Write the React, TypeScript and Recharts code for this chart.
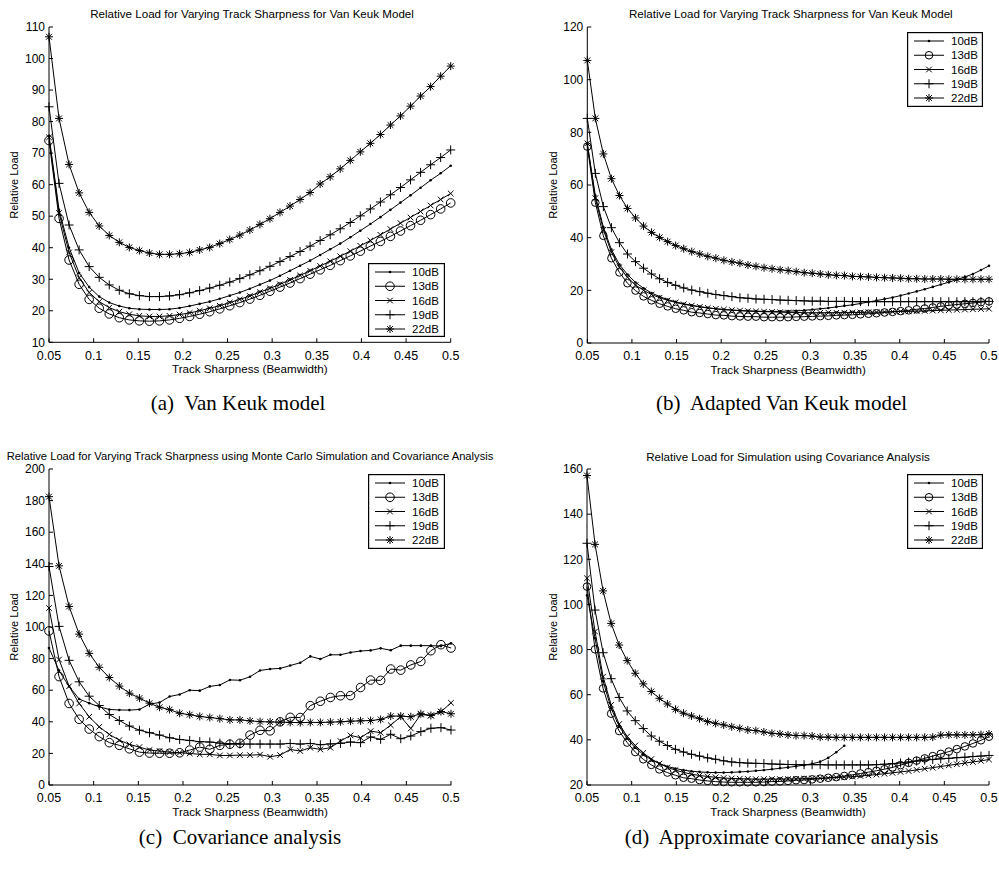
import React from "react";
import { LineChart, Line, XAxis, YAxis, Legend } from "recharts";

// beamwidth samples: 41 points for (a)/(c), 51 points for (b)/(d)
const sharpness41 = [
  0.05, 0.06125, 0.0725, 0.08375, 0.095, 0.10625, 0.1175, 0.12875, 0.14, 0.15125,
  0.1625, 0.17375, 0.185, 0.19625, 0.2075, 0.21875, 0.23, 0.24125, 0.2525, 0.26375,
  0.275, 0.28625, 0.2975, 0.30875, 0.32, 0.33125, 0.3425, 0.35375, 0.365, 0.37625,
  0.3875, 0.39875, 0.41, 0.42125, 0.4325, 0.44375, 0.455, 0.46625, 0.4775, 0.48875, 0.5,
];
const sharpness51 = [
  0.05, 0.059, 0.068, 0.077, 0.086, 0.095, 0.104, 0.113, 0.122, 0.131,
  0.14, 0.149, 0.158, 0.167, 0.176, 0.185, 0.194, 0.203, 0.212, 0.221,
  0.23, 0.239, 0.248, 0.257, 0.266, 0.275, 0.284, 0.293, 0.302, 0.311,
  0.32, 0.329, 0.338, 0.347, 0.356, 0.365, 0.374, 0.383, 0.392, 0.401,
  0.41, 0.419, 0.428, 0.437, 0.446, 0.455, 0.464, 0.473, 0.482, 0.491, 0.5,
];

const xTicks = [0.05, 0.1, 0.15, 0.2, 0.25, 0.3, 0.35, 0.4, 0.45, 0.5];
const seriesNames = ["10dB", "13dB", "16dB", "19dB", "22dB"];

// (a) Van Keuk model
const vanKeuk10 = [75.5, 52, 40, 32, 27.5, 24.5, 22.6, 21.5, 20.8, 20.5, 20.4, 20.4, 20.5, 20.9, 21.5, 22.2, 22.9, 23.8, 24.8, 25.8, 27.0, 28.3, 29.6, 31.1, 32.7, 34.3, 35.9, 37.7, 39.5, 41.3, 43.3, 45.4, 47.5, 49.7, 52.0, 54.3, 56.6, 59.0, 61.4, 63.6, 66.0];
const vanKeuk13 = [74, 49.3, 36.1, 28.4, 23.6, 20.8, 19.0, 17.8, 17.1, 16.8, 16.7, 16.8, 17.1, 17.6, 18.2, 18.9, 19.7, 20.6, 21.6, 22.6, 23.7, 24.9, 26.2, 27.5, 28.8, 30.2, 31.6, 33.0, 34.4, 35.9, 37.4, 38.9, 40.5, 42.0, 43.6, 45.3, 47.0, 48.7, 50.5, 52.3, 54.2];
const vanKeuk16 = [75, 51, 38.5, 30.5, 25.8, 22.9, 21.0, 19.7, 18.9, 18.4, 18.2, 18.2, 18.4, 18.8, 19.3, 20.0, 20.8, 21.6, 22.6, 23.6, 24.7, 25.9, 27.1, 28.4, 29.8, 31.2, 32.7, 34.2, 35.7, 37.3, 38.9, 40.6, 42.3, 44.1, 45.9, 47.8, 49.6, 51.5, 53.4, 55.3, 57.2];
const vanKeuk19 = [84.7, 60.4, 47.2, 39.3, 34.0, 30.6, 28.2, 26.5, 25.4, 24.8, 24.5, 24.5, 24.7, 25.1, 25.7, 26.4, 27.2, 28.1, 29.1, 30.2, 31.4, 32.7, 34.1, 35.6, 37.2, 38.8, 40.5, 42.3, 44.1, 46.0, 48.0, 50.1, 52.3, 54.5, 56.8, 59.1, 61.5, 63.9, 66.3, 68.6, 71.0];
const vanKeuk22 = [106.9, 81.0, 66.4, 57.4, 51.2, 46.9, 43.9, 41.7, 40.1, 39.1, 38.3, 37.9, 37.9, 38.1, 38.5, 39.3, 40.1, 41.3, 42.6, 44.0, 45.6, 47.4, 49.2, 51.2, 53.2, 55.3, 57.5, 60.2, 62.5, 65.0, 67.7, 70.4, 73.1, 75.9, 78.9, 81.8, 84.9, 88.1, 91.1, 94.4, 97.6];

// (b) Adapted Van Keuk model
const adapted10 = [75.5, 56, 44, 35.5, 29.8, 26, 23, 20.8, 19.0, 17.6, 16.5, 15.6, 14.9, 14.3, 13.8, 13.4, 13.0, 12.7, 12.5, 12.3, 12.2, 12.1, 12.0, 12.0, 12.0, 12.1, 12.2, 12.4, 12.7, 13.0, 13.3, 13.7, 14.1, 14.5, 15.0, 15.6, 16.1, 16.7, 17.3, 18.0, 18.8, 19.6, 20.4, 21.3, 22.2, 23.1, 24.1, 25.1, 26.2, 27.7, 29.3];
const adapted13 = [74.6, 53.3, 40.7, 32.2, 26.8, 22.7, 19.9, 17.7, 16.2, 14.9, 13.9, 13.0, 12.4, 11.7, 11.4, 11.0, 10.6, 10.5, 10.2, 10.1, 10.0, 10.0, 9.8, 9.8, 9.8, 9.8, 9.9, 10.0, 10.1, 10.2, 10.3, 10.5, 10.6, 10.7, 10.9, 11.1, 11.3, 11.6, 11.8, 12.1, 12.4, 12.8, 13.1, 13.5, 13.9, 14.3, 14.6, 14.9, 15.2, 15.5, 15.8];
const adapted16 = [75.8, 55, 43, 34.5, 28.8, 25, 22, 20, 18.4, 17.2, 16.2, 15.4, 14.7, 14.2, 13.7, 13.3, 13.0, 12.7, 12.5, 12.3, 12.1, 12.0, 11.9, 11.8, 11.7, 11.6, 11.6, 11.5, 11.5, 11.5, 11.5, 11.5, 11.5, 11.6, 11.6, 11.7, 11.7, 11.8, 11.9, 12.0, 12.0, 12.1, 12.2, 12.3, 12.4, 12.5, 12.6, 12.7, 12.8, 12.9, 13.0];
const adapted19 = [85.3, 64.4, 51.8, 43.8, 38.1, 33.8, 30.9, 28.4, 26.2, 24.4, 23.0, 21.9, 20.9, 20.1, 19.5, 18.9, 18.4, 18.0, 17.6, 17.2, 17.0, 16.7, 16.6, 16.5, 16.3, 16.2, 16.1, 16.0, 15.9, 15.9, 15.8, 15.8, 15.8, 15.7, 15.7, 15.7, 15.7, 15.7, 15.7, 15.7, 15.7, 15.7, 15.7, 15.7, 15.7, 15.7, 15.7, 15.7, 15.7, 15.8, 15.8];
const adapted22 = [107.3, 85.3, 71.8, 62.4, 56.0, 51.1, 47.5, 44.4, 42.0, 40.1, 38.5, 37.0, 35.8, 34.7, 33.8, 32.9, 32.2, 31.4, 30.8, 30.3, 29.6, 29.1, 28.6, 28.2, 27.8, 27.5, 27.1, 26.7, 26.5, 26.2, 25.9, 25.7, 25.6, 25.3, 25.2, 25.1, 24.9, 24.8, 24.7, 24.6, 24.4, 24.4, 24.3, 24.3, 24.3, 24.2, 24.2, 24.2, 24.2, 24.2, 24.2];

// (c) Covariance analysis (Monte Carlo)
const covar10 = [86.7, 72.4, 62.4, 54.4, 51.8, 49.5, 47.8, 47.5, 47.4, 47.8, 51.2, 52.2, 56.0, 57.3, 60.0, 59.7, 62.4, 63.3, 66.5, 66.3, 68.5, 72.5, 73.4, 73.8, 75.6, 77.4, 81.4, 79.7, 82.4, 82.4, 83.9, 84.8, 85.2, 86.5, 85.3, 88.2, 88.2, 88.2, 88.2, 87.9, 89.7];
const covar13 = [97.5, 68.6, 51.6, 41.6, 35.4, 30.6, 26.8, 25.1, 22.9, 20.8, 20.2, 20.1, 20.1, 20.4, 22.1, 24.0, 22.6, 25.1, 25.8, 26.4, 31.6, 34.6, 34.3, 40.0, 42.8, 42.7, 50.2, 53.0, 55.4, 56.5, 56.6, 61.7, 66.4, 66.2, 73.4, 72.7, 76.0, 78.2, 85.0, 88.8, 86.7];
const covar16 = [112, 79.4, 62.5, 51.6, 43.2, 36.8, 32.0, 28.4, 25.7, 24.0, 22.1, 21.5, 20.8, 20.4, 20.0, 19.4, 19.4, 18.7, 18.7, 18.9, 18.9, 19.2, 17.9, 18.9, 22.5, 21.5, 23.6, 22.5, 23.6, 27.8, 31.4, 29.9, 34.1, 33.1, 37.9, 43.2, 35.8, 44.6, 44.0, 46.3, 52.0];
const covar19 = [138.3, 100.4, 78.9, 65.3, 56.2, 50.3, 44.6, 40.8, 37.3, 34.7, 33.1, 31.6, 29.9, 28.8, 28.2, 27.4, 27.2, 26.5, 26.1, 25.9, 25.9, 25.9, 25.9, 25.9, 26.3, 25.9, 26.3, 25.5, 26.0, 26.3, 27.2, 26.8, 30.4, 28.9, 32.1, 29.3, 31.0, 33.8, 35.9, 36.3, 34.8];
const covar22 = [182.5, 138.7, 113.0, 95.5, 83.3, 74.5, 68.0, 62.6, 58.1, 55.0, 51.8, 49.2, 47.7, 45.4, 44.5, 43.4, 42.7, 42.0, 41.2, 41.2, 40.6, 40.1, 39.9, 39.8, 39.6, 39.5, 39.6, 39.6, 39.8, 40.0, 40.4, 40.6, 40.8, 41.5, 43.6, 43.6, 43.2, 45.1, 44.0, 46.5, 45.1];

// (d) Approximate covariance analysis (10dB run stops early)
const approx10 = [104, 85, 66, 54, 46, 40.5, 36.5, 33.5, 31.2, 29.5, 28.2, 27.3, 26.6, 26.1, 25.8, 25.6, 25.5, 25.5, 25.6, 25.8, 26.0, 26.3, 26.6, 27.0, 27.4, 27.8, 28.3, 28.8, 29.4, 30.3, 32.0, 34.5, 37.4];
const approx13 = [107.9, 80.1, 62.8, 51.6, 43.9, 38.8, 34.6, 31.4, 28.9, 26.9, 25.5, 24.3, 23.2, 22.8, 22.2, 21.8, 21.5, 21.3, 21.2, 21.2, 21.2, 21.2, 21.3, 21.5, 21.6, 21.8, 22.1, 22.2, 22.5, 22.8, 23.2, 23.5, 24.0, 24.5, 25.1, 25.7, 26.3, 27.0, 27.8, 28.8, 29.8, 30.8, 31.8, 32.8, 33.8, 34.8, 35.9, 37.1, 38.4, 39.8, 41.4];
const approx16 = [111.6, 88, 68, 55.5, 47, 41.5, 37.5, 34.2, 31.5, 29.5, 27.8, 26.6, 25.6, 24.8, 24.2, 23.8, 23.4, 23.1, 22.9, 22.8, 22.7, 22.6, 22.6, 22.6, 22.6, 22.6, 22.7, 22.8, 22.9, 23.0, 23.1, 23.3, 23.5, 23.7, 24.0, 24.3, 24.6, 25.0, 25.4, 25.8, 26.2, 26.7, 27.2, 27.7, 28.2, 28.7, 29.2, 29.7, 30.2, 30.7, 31.3];
const approx19 = [127.1, 97.5, 78.6, 67.1, 58.8, 52.8, 48.5, 45.0, 41.7, 39.4, 37.5, 35.8, 34.6, 33.6, 32.8, 32.0, 31.4, 30.7, 30.2, 29.9, 29.7, 29.6, 29.5, 29.3, 29.2, 29.1, 29.0, 29.0, 29.0, 29.0, 28.9, 28.9, 28.9, 28.9, 28.9, 28.9, 29.0, 29.2, 29.5, 29.8, 30.2, 30.6, 31.0, 31.3, 31.6, 31.8, 32.1, 32.3, 32.6, 32.8, 33.1];
const approx22 = [157.1, 126.6, 106.0, 91.6, 82.0, 75.1, 69.5, 64.8, 61.4, 58.4, 55.9, 53.5, 51.8, 50.6, 49.4, 48.1, 47.3, 46.6, 45.8, 45.1, 44.4, 44.1, 43.5, 42.9, 42.6, 42.2, 41.9, 41.9, 41.7, 41.2, 41.2, 41.1, 41.1, 41.1, 41.1, 41.1, 41.1, 41.1, 41.1, 41.1, 41.1, 41.1, 41.1, 41.2, 42.1, 42.2, 42.2, 42.2, 42.2, 42.3, 42.6];

const ticksA = [10, 20, 30, 40, 50, 60, 70, 80, 90, 100, 110];
const ticksB = [0, 20, 40, 60, 80, 100, 120];
const ticksC = [0, 20, 40, 60, 80, 100, 120, 140, 160, 180, 200];
const ticksD = [20, 40, 60, 80, 100, 120, 140, 160];

const SANS = '"Liberation Sans", Arial, Helvetica, sans-serif';
const SERIF = '"Liberation Serif", "Times New Roman", serif';
const YW = 40;
const XH = 30;

type Shape = "dot" | "circle" | "cross" | "plus" | "star";
const shapes: Shape[] = ["dot", "circle", "cross", "plus", "star"];

function marker(shape: Shape, cx: number, cy: number, big: boolean) {
  const k = "#000";
  if (shape === "dot") return <circle cx={cx} cy={cy} r={1.3} fill={k} />;
  if (shape === "circle")
    return <circle cx={cx} cy={cy} r={big ? 4.3 : 3.8} fill="none" stroke={k} strokeWidth={1} />;
  if (shape === "cross") {
    const d = 2.8;
    return <path d={`M${cx - d},${cy - d}L${cx + d},${cy + d}M${cx - d},${cy + d}L${cx + d},${cy - d}`} stroke={k} strokeWidth={1} fill="none" />;
  }
  if (shape === "plus") {
    const d = 4.5;
    return <path d={`M${cx - d},${cy}L${cx + d},${cy}M${cx},${cy - d}L${cx},${cy + d}`} stroke={k} strokeWidth={1} fill="none" />;
  }
  const d = 4;
  const e = 2.9;
  return (
    <path
      d={`M${cx - d},${cy}L${cx + d},${cy}M${cx},${cy - d}L${cx},${cy + d}M${cx - e},${cy - e}L${cx + e},${cy + e}M${cx - e},${cy + e}L${cx + e},${cy - e}`}
      stroke={k}
      strokeWidth={1}
      fill="none"
    />
  );
}

const dotFor = (shape: Shape, big: boolean) => (p: any) => {
  const key = `${shape}-${p.index}`;
  if (p.cx == null || p.cy == null || p.value == null) return <g key={key} />;
  return <g key={key}>{marker(shape, p.cx, p.cy, big)}</g>;
};

type Box = { x: number; y: number; w: number; h: number };

const legendBox = (box: Box, big: boolean) => () => (
  <svg width={box.w} height={box.h} style={{ display: "block" }}>
    <rect x={0.6} y={0.6} width={box.w - 1.2} height={box.h - 1.2} fill="#fff" stroke="#000" strokeWidth={1.2} />
    {seriesNames.map((name, i) => {
      const y = 9 + i * 14.25;
      return (
        <g key={name}>
          <line x1={7} x2={37} y1={y} y2={y} stroke="#000" strokeWidth={1} />
          {marker(shapes[i], 22, y, big)}
          <text x={44} y={y + 4} fontSize={11.5} fontFamily={SANS} fill="#000">
            {name}
          </text>
        </g>
      );
    })}
  </svg>
);

type PanelSpec = {
  left: number;
  top: number;
  w: number;
  h: number;
  plot: { l: number; r: number; t: number; b: number };
  xs: number[];
  series: number[][];
  yDomain: [number, number];
  yTicks: number[];
  title: string;
  titleSize: number;
  titleX: number;
  titleY: number;
  caption: string;
  captionX: number;
  captionY: number;
  xLabelY: number;
  yLabelX: number;
  legend: Box;
  big: boolean;
};

function Panel(p: PanelSpec) {
  const rows = p.xs.map((x, i) => {
    const r: Record<string, number | null> = { x };
    p.series.forEach((s, k) => {
      r["s" + k] = i < s.length ? s[i] : null;
    });
    return r;
  });
  const margin = {
    left: p.plot.l - YW,
    right: p.w - p.plot.r,
    top: p.plot.t,
    bottom: p.h - p.plot.b - XH,
  };
  const plotCx = (p.plot.l + p.plot.r) / 2;
  const plotCy = (p.plot.t + p.plot.b) / 2;
  const xTick = { fontSize: 12.5, fill: "#000", fontFamily: SANS };
  const yTick = { fontSize: 12, fill: "#000", fontFamily: SANS };

  return (
    <div style={{ position: "absolute", left: p.left, top: p.top, width: p.w, height: p.h, overflow: "hidden" }}>
      <LineChart width={p.w} height={p.h} data={rows} margin={margin}>
        <XAxis
          type="number"
          dataKey="x"
          domain={[0.05, 0.5]}
          ticks={xTicks}
          interval={0}
          height={XH}
          tickSize={-4}
          tickMargin={12.5}
          tick={xTick}
          tickFormatter={(v: number) => String(v)}
          axisLine={{ stroke: "#000" }}
          tickLine={{ stroke: "#000" }}
        />
        <YAxis
          type="number"
          domain={p.yDomain}
          ticks={p.yTicks}
          interval={0}
          width={YW}
          tickSize={-4}
          tickMargin={8}
          tick={yTick}
          axisLine={{ stroke: "#000" }}
          tickLine={{ stroke: "#000" }}
        />
        <Legend
          layout="vertical"
          align="center"
          verticalAlign="middle"
          content={legendBox(p.legend, p.big)}
          wrapperStyle={{ left: p.legend.x, top: p.legend.y, width: p.legend.w, height: p.legend.h }}
        />
        {shapes.map((s, k) => (
          <Line
            key={s}
            type="linear"
            dataKey={"s" + k}
            name={seriesNames[k]}
            stroke="#000"
            strokeWidth={1}
            dot={dotFor(s, p.big)}
            activeDot={false}
            connectNulls={false}
            isAnimationActive={false}
          />
        ))}
      </LineChart>
      <div
        style={{
          position: "absolute",
          left: p.titleX - 400,
          width: 800,
          top: p.titleY - 7,
          height: 14,
          display: "flex",
          justifyContent: "center",
          alignItems: "center",
          whiteSpace: "nowrap",
          fontFamily: SANS,
          fontSize: p.titleSize,
        }}
      >
        {p.title}
      </div>
      <div
        style={{
          position: "absolute",
          left: plotCx - 150,
          width: 300,
          top: p.xLabelY - 6,
          height: 12,
          lineHeight: "12px",
          textAlign: "center",
          fontFamily: SANS,
          fontSize: 11.6,
        }}
      >
        Track Sharpness (Beamwidth)
      </div>
      <div
        style={{
          position: "absolute",
          left: p.yLabelX - 60,
          width: 120,
          top: plotCy - 7,
          height: 14,
          lineHeight: "14px",
          textAlign: "center",
          transform: "rotate(-90deg)",
          fontFamily: SANS,
          fontSize: 11,
        }}
      >
        Relative Load
      </div>
      <div
        style={{
          position: "absolute",
          left: p.captionX - 200,
          width: 400,
          top: p.captionY - 13,
          height: 26,
          lineHeight: "26px",
          textAlign: "center",
          whiteSpace: "pre",
          fontFamily: SERIF,
          fontSize: 21,
        }}
      >
        {p.caption}
      </div>
    </div>
  );
}

const TITLE_VK = "Relative Load for Varying Track Sharpness for Van Keuk Model";

const panels: PanelSpec[] = [
  {
    left: 0, top: 0, w: 500, h: 435,
    plot: { l: 49, r: 450.7, t: 27, b: 342.3 },
    xs: sharpness41,
    series: [vanKeuk10, vanKeuk13, vanKeuk16, vanKeuk19, vanKeuk22],
    yDomain: [10, 110], yTicks: ticksA,
    title: TITLE_VK, titleSize: 11.6, titleX: 252, titleY: 13,
    caption: "(a)  Van Keuk model", captionX: 238, captionY: 403,
    xLabelY: 369, yLabelX: 14,
    legend: { x: 368, y: 263, w: 77, h: 74 }, big: true,
  },
  {
    left: 500, top: 0, w: 499, h: 435,
    plot: { l: 87.3, r: 489, t: 27, b: 343 },
    xs: sharpness51,
    series: [adapted10, adapted13, adapted16, adapted19, adapted22],
    yDomain: [0, 120], yTicks: ticksB,
    title: TITLE_VK, titleSize: 11.6, titleX: 290.8, titleY: 13,
    caption: "(b)  Adapted Van Keuk model", captionX: 281.6, captionY: 403,
    xLabelY: 369.5, yLabelX: 53,
    legend: { x: 407, y: 32, w: 76, h: 75 }, big: false,
  },
  {
    left: 0, top: 435, w: 500, h: 435,
    plot: { l: 49, r: 451, t: 34, b: 350 },
    xs: sharpness41,
    series: [covar10, covar13, covar16, covar19, covar22],
    yDomain: [0, 200], yTicks: ticksC,
    title: "Relative Load for Varying Track Sharpness using Monte Carlo Simulation and Covariance Analysis",
    titleSize: 11.2, titleX: 250, titleY: 21,
    caption: "(c)  Covariance analysis", captionX: 240, captionY: 402,
    xLabelY: 377, yLabelX: 14,
    legend: { x: 368, y: 39, w: 77, h: 75 }, big: true,
  },
  {
    left: 500, top: 435, w: 499, h: 435,
    plot: { l: 87, r: 489, t: 34, b: 350 },
    xs: sharpness51,
    series: [approx10, approx13, approx16, approx19, approx22],
    yDomain: [20, 160], yTicks: ticksD,
    title: "Relative Load for Simulation using Covariance Analysis",
    titleSize: 11.6, titleX: 288, titleY: 21,
    caption: "(d)  Approximate covariance analysis", captionX: 281.6, captionY: 402,
    xLabelY: 377, yLabelX: 53,
    legend: { x: 407, y: 39, w: 76, h: 75 }, big: false,
  },
];

export default function App() {
  return (
    <div style={{ position: "absolute", left: 0, top: 0, width: 999, height: 870, background: "#fff", overflow: "hidden" }}>
      {panels.map((p, i) => (
        <Panel key={i} {...p} />
      ))}
    </div>
  );
}
